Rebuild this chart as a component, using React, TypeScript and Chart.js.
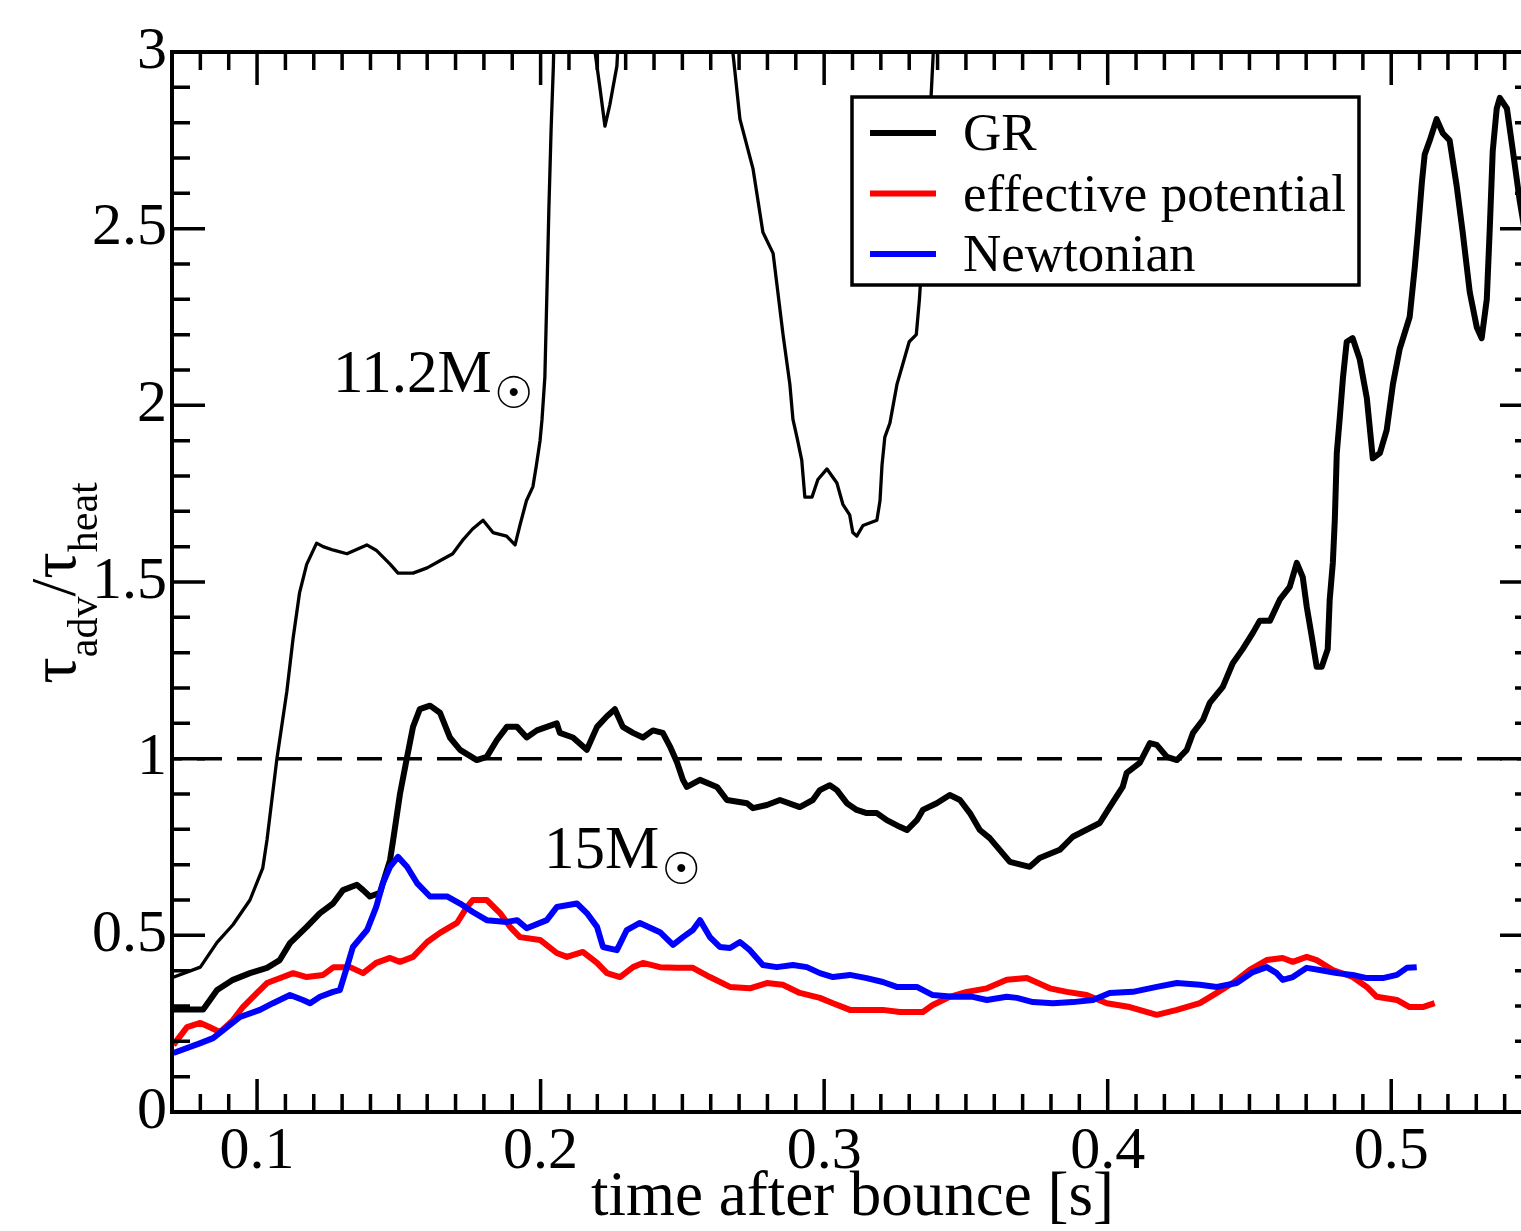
import React, { useEffect, useRef } from 'react';
import { Chart, registerables } from 'chart.js';

Chart.register(...registerables);

// ---------- data (time after bounce [s], tau_adv / tau_heat) ----------
const gr112Time = [
  0.070, 0.080, 0.0859, 0.0915, 0.0975, 0.102, 0.1035, 0.107, 0.1105, 0.1127, 0.115, 0.1175,
  0.121, 0.1233, 0.127, 0.1317, 0.1387, 0.142, 0.147, 0.1497, 0.155, 0.16, 0.1645, 0.169,
  0.1727, 0.176, 0.1797, 0.1832, 0.188, 0.191, 0.1927, 0.195, 0.1973, 0.1985, 0.1998, 0.2005,
  0.2015, 0.2022, 0.2029, 0.2037, 0.2045, 0.2055, 0.212, 0.218, 0.2192, 0.2209, 0.2227, 0.2244,
  0.2269, 0.2285, 0.245, 0.266, 0.2678, 0.2703, 0.2749, 0.2784, 0.282, 0.2855, 0.2879, 0.289,
  0.2904, 0.2921, 0.2932, 0.2957, 0.2978, 0.301, 0.3045, 0.3066, 0.309, 0.3101, 0.3115, 0.3137,
  0.3186, 0.3197, 0.3204, 0.3214, 0.3232, 0.3257, 0.3275, 0.33, 0.3325, 0.3336, 0.336, 0.3385,
  0.340,
];
const gr112Ratio = [
  0.38, 0.41, 0.48, 0.53, 0.60, 0.69, 0.77, 1.0, 1.19, 1.34, 1.47, 1.55,
  1.61, 1.60, 1.59, 1.58, 1.605, 1.59, 1.55, 1.525, 1.525, 1.54, 1.56, 1.58,
  1.62, 1.65, 1.675, 1.64, 1.63, 1.605, 1.66, 1.73, 1.77, 1.83, 1.90, 1.96,
  2.08, 2.31, 2.55, 2.78, 2.96, 3.3, 3.6, 3.3, 3.0, 2.9, 2.79, 2.85,
  2.96, 3.2, 3.7, 3.3, 3.0, 2.81, 2.67, 2.49, 2.43, 2.2, 2.06, 1.96,
  1.91, 1.845, 1.74, 1.74, 1.79, 1.82, 1.78, 1.72, 1.69, 1.64, 1.63, 1.66,
  1.675, 1.73, 1.83, 1.91, 1.95, 2.06, 2.11, 2.18, 2.2, 2.3, 2.6, 3.0,
  3.2,
];

const gr15Time = [
  0.070, 0.081, 0.0859, 0.0915, 0.0975, 0.1035, 0.108, 0.1116, 0.1175, 0.1222, 0.1268, 0.1303,
  0.1352, 0.1374, 0.1398, 0.1433, 0.1469, 0.148, 0.1504, 0.1528, 0.155, 0.1574, 0.161, 0.1645,
  0.168, 0.1716, 0.1775, 0.181, 0.1846, 0.1881, 0.1917, 0.1951, 0.1987, 0.2057, 0.2068, 0.2114,
  0.2163, 0.2199, 0.2234, 0.2262, 0.229, 0.2326, 0.2361, 0.2396, 0.2431, 0.2456, 0.2481, 0.2502,
  0.2516, 0.2562, 0.2622, 0.2657, 0.2728, 0.2749, 0.2798, 0.2844, 0.2914, 0.296, 0.2985, 0.302,
  0.3045, 0.308, 0.3115, 0.315, 0.3186, 0.3221, 0.3267, 0.3292, 0.3327, 0.3348, 0.3397, 0.3443,
  0.3479, 0.3514, 0.3549, 0.3584, 0.3655, 0.3725, 0.376, 0.3831, 0.3877, 0.3972, 0.4007, 0.4053,
  0.4067, 0.4113, 0.4149, 0.4173, 0.4209, 0.4244, 0.4279, 0.4301, 0.4336, 0.436, 0.4406, 0.4441,
  0.4476, 0.4512, 0.4536, 0.4572, 0.4607, 0.4642, 0.4667, 0.4688, 0.4702, 0.472, 0.4737, 0.4755,
  0.4776, 0.4783, 0.4794, 0.4801, 0.4808, 0.4818, 0.483, 0.4843, 0.4864, 0.4889, 0.4914, 0.4935,
  0.496, 0.4984, 0.5006, 0.503, 0.5065, 0.5083, 0.5094, 0.5108, 0.5118, 0.5136, 0.516, 0.5182,
  0.5206, 0.5231, 0.5252, 0.5277, 0.5302, 0.5319, 0.5337, 0.5347, 0.5358, 0.5372, 0.5383, 0.5408,
  0.5429, 0.5453, 0.548,
];
const gr15Ratio = [
  0.29, 0.29, 0.345, 0.374, 0.393, 0.408, 0.43, 0.478, 0.524, 0.563, 0.59, 0.628,
  0.643, 0.628, 0.61, 0.62, 0.713, 0.77, 0.90, 1.0, 1.09, 1.14, 1.15, 1.13,
  1.06, 1.025, 0.996, 1.005, 1.053, 1.09, 1.09, 1.06, 1.08, 1.10, 1.073, 1.06,
  1.025, 1.09, 1.12, 1.14, 1.09, 1.073, 1.06, 1.08, 1.073, 1.035, 0.99, 0.94,
  0.92, 0.94, 0.92, 0.883, 0.874, 0.86, 0.869, 0.883, 0.863, 0.883, 0.911, 0.925,
  0.911, 0.874, 0.855, 0.846, 0.846, 0.826, 0.807, 0.798, 0.826, 0.855, 0.874, 0.897,
  0.883, 0.846, 0.798, 0.775, 0.708, 0.694, 0.719, 0.742, 0.779, 0.818, 0.863, 0.92,
  0.96, 0.988, 1.044, 1.039, 1.005, 0.996, 1.025, 1.073, 1.11, 1.158, 1.203, 1.27,
  1.31, 1.356, 1.39, 1.39, 1.45, 1.486, 1.554, 1.514, 1.43, 1.344, 1.26, 1.26,
  1.31, 1.45, 1.554, 1.675, 1.865, 1.96, 2.08, 2.18, 2.19, 2.13, 2.02, 1.85,
  1.865, 1.93, 2.06, 2.16, 2.25, 2.39, 2.49, 2.63, 2.71, 2.75, 2.81, 2.77,
  2.75, 2.62, 2.49, 2.32, 2.22, 2.19, 2.3, 2.49, 2.72, 2.84, 2.87, 2.84,
  2.72, 2.58, 2.45,
];

const effTime = [
  0.0705, 0.0753, 0.080, 0.0834, 0.0869, 0.0915, 0.095, 0.100, 0.1035, 0.1091, 0.1127, 0.1175,
  0.1233, 0.127, 0.1328, 0.1374, 0.142, 0.1469, 0.1504, 0.155, 0.160, 0.1645, 0.1705, 0.174,
  0.1761, 0.181, 0.1857, 0.1892, 0.1927, 0.1998, 0.2057, 0.2093, 0.2149, 0.2199, 0.2234, 0.228,
  0.2326, 0.2361, 0.2421, 0.2481, 0.2537, 0.2597, 0.2668, 0.2738, 0.2798, 0.2854, 0.2914, 0.2985,
  0.3031, 0.3091, 0.3207, 0.3267, 0.3348, 0.3383, 0.3443, 0.3503, 0.3574, 0.3644, 0.3715, 0.3796,
  0.3856, 0.3926, 0.3997, 0.4078, 0.4173, 0.4244, 0.4325, 0.4385, 0.4441, 0.4501, 0.4561, 0.4617,
  0.4653, 0.4702, 0.4737, 0.4794, 0.4864, 0.4914, 0.4949, 0.502, 0.5065, 0.5111, 0.5153,
];
const effRatio = [
  0.19, 0.24, 0.252, 0.24, 0.226, 0.26, 0.297, 0.337, 0.365, 0.382, 0.393, 0.382,
  0.388, 0.41, 0.41, 0.393, 0.422, 0.436, 0.425, 0.439, 0.481, 0.507, 0.535, 0.58,
  0.60, 0.60, 0.563, 0.524, 0.495, 0.487, 0.45, 0.439, 0.453, 0.422, 0.393, 0.382,
  0.41, 0.422, 0.41, 0.408, 0.408, 0.382, 0.354, 0.35, 0.365, 0.36, 0.337, 0.323,
  0.308, 0.289, 0.289, 0.283, 0.283, 0.303, 0.326, 0.34, 0.35, 0.374, 0.379, 0.35,
  0.34, 0.331, 0.308, 0.297, 0.275, 0.289, 0.308, 0.337, 0.365, 0.402, 0.43, 0.436,
  0.425, 0.439, 0.43, 0.402, 0.382, 0.354, 0.326, 0.317, 0.297, 0.297, 0.308,
];

const newtTime = [
  0.0705, 0.080, 0.0845, 0.0894, 0.094, 0.101, 0.1056, 0.1116, 0.1162, 0.1187, 0.1222, 0.1268,
  0.1292, 0.1317, 0.1338, 0.1388, 0.142, 0.1444, 0.1469, 0.1497, 0.1529, 0.1564, 0.161, 0.167,
  0.1716, 0.1761, 0.181, 0.1881, 0.1917, 0.1951, 0.2022, 0.2057, 0.2128, 0.2163, 0.2199, 0.222,
  0.2269, 0.2304, 0.235, 0.2421, 0.2467, 0.2502, 0.2537, 0.2562, 0.2597, 0.2632, 0.2668, 0.2703,
  0.2738, 0.2784, 0.2833, 0.289, 0.2939, 0.2985, 0.3031, 0.3091, 0.315, 0.3207, 0.3256, 0.3327,
  0.3383, 0.3454, 0.3524, 0.3574, 0.3644, 0.368, 0.3736, 0.3807, 0.3877, 0.3948, 0.4007, 0.4089,
  0.4173, 0.4244, 0.4325, 0.4385, 0.4455, 0.4512, 0.4561, 0.4596, 0.4617, 0.4653, 0.4702, 0.4748,
  0.4808, 0.4864, 0.4914, 0.497, 0.502, 0.5055, 0.509,
];
const newtRatio = [
  0.167, 0.195, 0.209, 0.24, 0.269, 0.289, 0.308, 0.331, 0.317, 0.308, 0.326, 0.34,
  0.345, 0.41, 0.467, 0.515, 0.58, 0.648, 0.694, 0.722, 0.694, 0.648, 0.61, 0.61,
  0.59, 0.566, 0.543, 0.538, 0.543, 0.52, 0.543, 0.58, 0.59, 0.563, 0.524, 0.467,
  0.458, 0.515, 0.535, 0.509, 0.473, 0.495, 0.515, 0.543, 0.495, 0.467, 0.464, 0.481,
  0.458, 0.416, 0.41, 0.416, 0.41, 0.393, 0.382, 0.388, 0.379, 0.368, 0.354, 0.354,
  0.331, 0.326, 0.326, 0.317, 0.326, 0.323, 0.311, 0.308, 0.311, 0.317, 0.337, 0.34,
  0.354, 0.365, 0.36, 0.354, 0.365, 0.396, 0.41, 0.393, 0.374, 0.382, 0.408, 0.402,
  0.393, 0.388, 0.379, 0.379, 0.388, 0.408, 0.41,
];

const thresholdTime = [0.07, 0.55];
const thresholdRatio = [1, 1];

const xTickValues = [0.1, 0.2, 0.3, 0.4, 0.5];
const xTickLabels = ['0.1', '0.2', '0.3', '0.4', '0.5'];
const yTickValues = [0, 0.5, 1, 1.5, 2, 2.5, 3];
const yTickLabels = ['0', '0.5', '1', '1.5', '2', '2.5', '3'];

const seriesLabels = ['GR', 'effective potential', 'Newtonian'];
const massLabels = ['11.2M', '15M'];
const massLabelTime = [0.1268, 0.2012];
const massLabelRatio = [2.038, 0.691];

const xTitle = 'time after bounce [s]';

// ---------- drawing helpers ----------
const SERIF = '"Liberation Serif", "Times New Roman", "DejaVu Serif", serif';
const zip = (xs: number[], ys: number[]) => xs.map((x, i) => ({ x, y: ys[i] }));

const framePlugin = {
  id: 'frameAndTicks',
  afterDatasetsDraw(chart: any) {
    const { ctx, chartArea: a, scales } = chart;
    const xs = scales.x;
    const ys = scales.y;
    ctx.save();
    ctx.strokeStyle = '#000';
    ctx.lineCap = 'butt';
    // inward ticks on all four sides
    ctx.lineWidth = 3.5;
    for (let k = Math.ceil(xs.min * 100 - 1e-6); k <= Math.floor(xs.max * 100 + 1e-6); k++) {
      const px = xs.getPixelForValue(k / 100);
      const len = k % 10 === 0 ? 33 : 18;
      ctx.beginPath();
      ctx.moveTo(px, a.bottom);
      ctx.lineTo(px, a.bottom - len);
      ctx.moveTo(px, a.top);
      ctx.lineTo(px, a.top + len);
      ctx.stroke();
    }
    for (let k = Math.ceil(ys.min * 10 - 1e-6); k <= Math.floor(ys.max * 10 + 1e-6); k++) {
      const py = ys.getPixelForValue(k / 10);
      const len = k % 5 === 0 ? 33 : 18;
      ctx.beginPath();
      ctx.moveTo(a.left, py);
      ctx.lineTo(a.left + len, py);
      ctx.moveTo(a.right, py);
      ctx.lineTo(a.right - len, py);
      ctx.stroke();
    }
    // frame
    ctx.lineWidth = 4;
    ctx.strokeRect(a.left, a.top, a.right - a.left, a.bottom - a.top);

    // mass annotations
    ctx.fillStyle = '#000';
    for (let i = 0; i < massLabels.length; i++) {
      const px = xs.getPixelForValue(massLabelTime[i]);
      const py = ys.getPixelForValue(massLabelRatio[i]);
      ctx.font = `61px ${SERIF}`;
      ctx.textAlign = 'left';
      ctx.textBaseline = 'alphabetic';
      ctx.fillText(massLabels[i], px, py);
      const w = ctx.measureText(massLabels[i]).width;
      ctx.font = '44px "DejaVu Sans"';
      ctx.textAlign = 'center';
      ctx.textBaseline = 'middle';
      ctx.fillText('\u2609', px + w + 22, py + 5);
    }

    // legend box
    const lx = 852;
    const ly = 97;
    const lw = 507;
    const lh = 188;
    ctx.fillStyle = '#fff';
    ctx.fillRect(lx, ly, lw, lh);
    ctx.lineWidth = 3.5;
    ctx.strokeStyle = '#000';
    ctx.strokeRect(lx, ly, lw, lh);
    const items = chart.data.datasets.filter((d: any) => d.label);
    items.forEach((d: any, i: number) => {
      const cy = 133 + i * 60.5;
      ctx.strokeStyle = d.borderColor;
      ctx.lineWidth = 6;
      ctx.beginPath();
      ctx.moveTo(870, cy);
      ctx.lineTo(936, cy);
      ctx.stroke();
      ctx.fillStyle = '#000';
      ctx.font = `53px ${SERIF}`;
      ctx.textAlign = 'left';
      ctx.textBaseline = 'alphabetic';
      ctx.fillText(d.label, 963, cy + 17);
    });
    ctx.restore();
  },
  afterDraw(chart: any) {
    // y-axis title: tau_adv / tau_heat, rotated
    const { ctx } = chart;
    const parts = [
      { t: '\u03C4', size: 66, dy: 0 },
      { t: 'adv', size: 42, dy: 22 },
      { t: '/', size: 64, dy: 0 },
      { t: '\u03C4', size: 66, dy: 0 },
      { t: 'heat', size: 42, dy: 22 },
    ];
    ctx.save();
    let total = 0;
    const widths = parts.map((p) => {
      ctx.font = `${p.size}px ${SERIF}`;
      const w = ctx.measureText(p.t).width;
      total += w;
      return w;
    });
    ctx.translate(75, 583);
    ctx.rotate(-Math.PI / 2);
    ctx.fillStyle = '#000';
    ctx.textAlign = 'left';
    ctx.textBaseline = 'alphabetic';
    let x = -total / 2;
    parts.forEach((p, i) => {
      ctx.font = `${p.size}px ${SERIF}`;
      ctx.fillText(p.t, x, p.dy);
      x += widths[i];
    });
    ctx.restore();
  },
};

export default function App() {
  const ref = useRef<HTMLCanvasElement | null>(null);

  useEffect(() => {
    if (!ref.current) return;
    const chart = new Chart(ref.current, {
      type: 'line',
      data: {
        datasets: [
          {
            label: seriesLabels[0],
            data: zip(gr15Time, gr15Ratio),
            borderColor: '#000000',
            borderWidth: 6,
            order: 2,
          },
          {
            label: seriesLabels[1],
            data: zip(effTime, effRatio),
            borderColor: '#ff0000',
            borderWidth: 6,
            order: 1,
          },
          {
            label: seriesLabels[2],
            data: zip(newtTime, newtRatio),
            borderColor: '#0000ff',
            borderWidth: 6,
            order: 0,
          },
          {
            label: '',
            data: zip(gr112Time, gr112Ratio),
            borderColor: '#000000',
            borderWidth: 3.3,
            order: 3,
          },
          {
            label: '',
            data: zip(thresholdTime, thresholdRatio),
            borderColor: '#000000',
            borderWidth: 3.5,
            borderDash: [25, 15],
            borderDashOffset: 15,
            order: 4,
          },
        ] as any,
      },
      options: {
        responsive: false,
        animation: false,
        devicePixelRatio: 1,
        parsing: false,
        layout: { padding: { top: 52, right: 12, left: 0, bottom: 0 } },
        elements: {
          point: { radius: 0, hoverRadius: 0 },
          line: { tension: 0, borderJoinStyle: 'round', fill: false },
        },
        datasets: { line: { clip: 0 } } as any,
        plugins: {
          legend: { display: false },
          tooltip: { enabled: false },
          title: { display: false },
        },
        scales: {
          x: {
            type: 'linear',
            min: 0.07,
            max: 0.55,
            grid: { display: false, drawTicks: false, tickLength: 0 },
            border: { display: false },
            afterBuildTicks: (s: any) => {
              s.ticks = xTickValues.map((v) => ({ value: v }));
            },
            ticks: {
              autoSkip: false,
              maxRotation: 0,
              minRotation: 0,
              padding: 4,
              color: '#000',
              font: { family: SERIF, size: 60 },
              callback: (v: any) => {
                const i = xTickValues.findIndex((t) => Math.abs(t - Number(v)) < 1e-6);
                return i >= 0 ? xTickLabels[i] : '';
              },
            },
            title: {
              display: true,
              text: xTitle,
              color: '#000',
              font: { family: SERIF, size: 63, lineHeight: 1 },
              padding: { top: 0, bottom: 1 },
            },
            afterFit: (s: any) => {
              s.height = 119;
            },
          },
          y: {
            type: 'linear',
            min: 0,
            max: 3,
            grid: { display: false, drawTicks: false, tickLength: 0 },
            border: { display: false },
            afterBuildTicks: (s: any) => {
              s.ticks = yTickValues.map((v) => ({ value: v }));
            },
            ticks: {
              autoSkip: false,
              padding: 5,
              color: '#000',
              font: { family: SERIF, size: 60 },
              callback: (v: any) => {
                const i = yTickValues.findIndex((t) => Math.abs(t - Number(v)) < 1e-6);
                return i >= 0 ? yTickLabels[i] : '';
              },
            },
            afterFit: (s: any) => {
              s.width = 172;
            },
          },
        },
      } as any,
      plugins: [framePlugin],
    });
    return () => chart.destroy();
  }, []);

  return (
    <div style={{ position: 'fixed', left: 0, top: 0, width: 1545, height: 1231, background: '#fff' }}>
      <canvas ref={ref} width={1545} height={1231} style={{ display: 'block' }} />
    </div>
  );
}
